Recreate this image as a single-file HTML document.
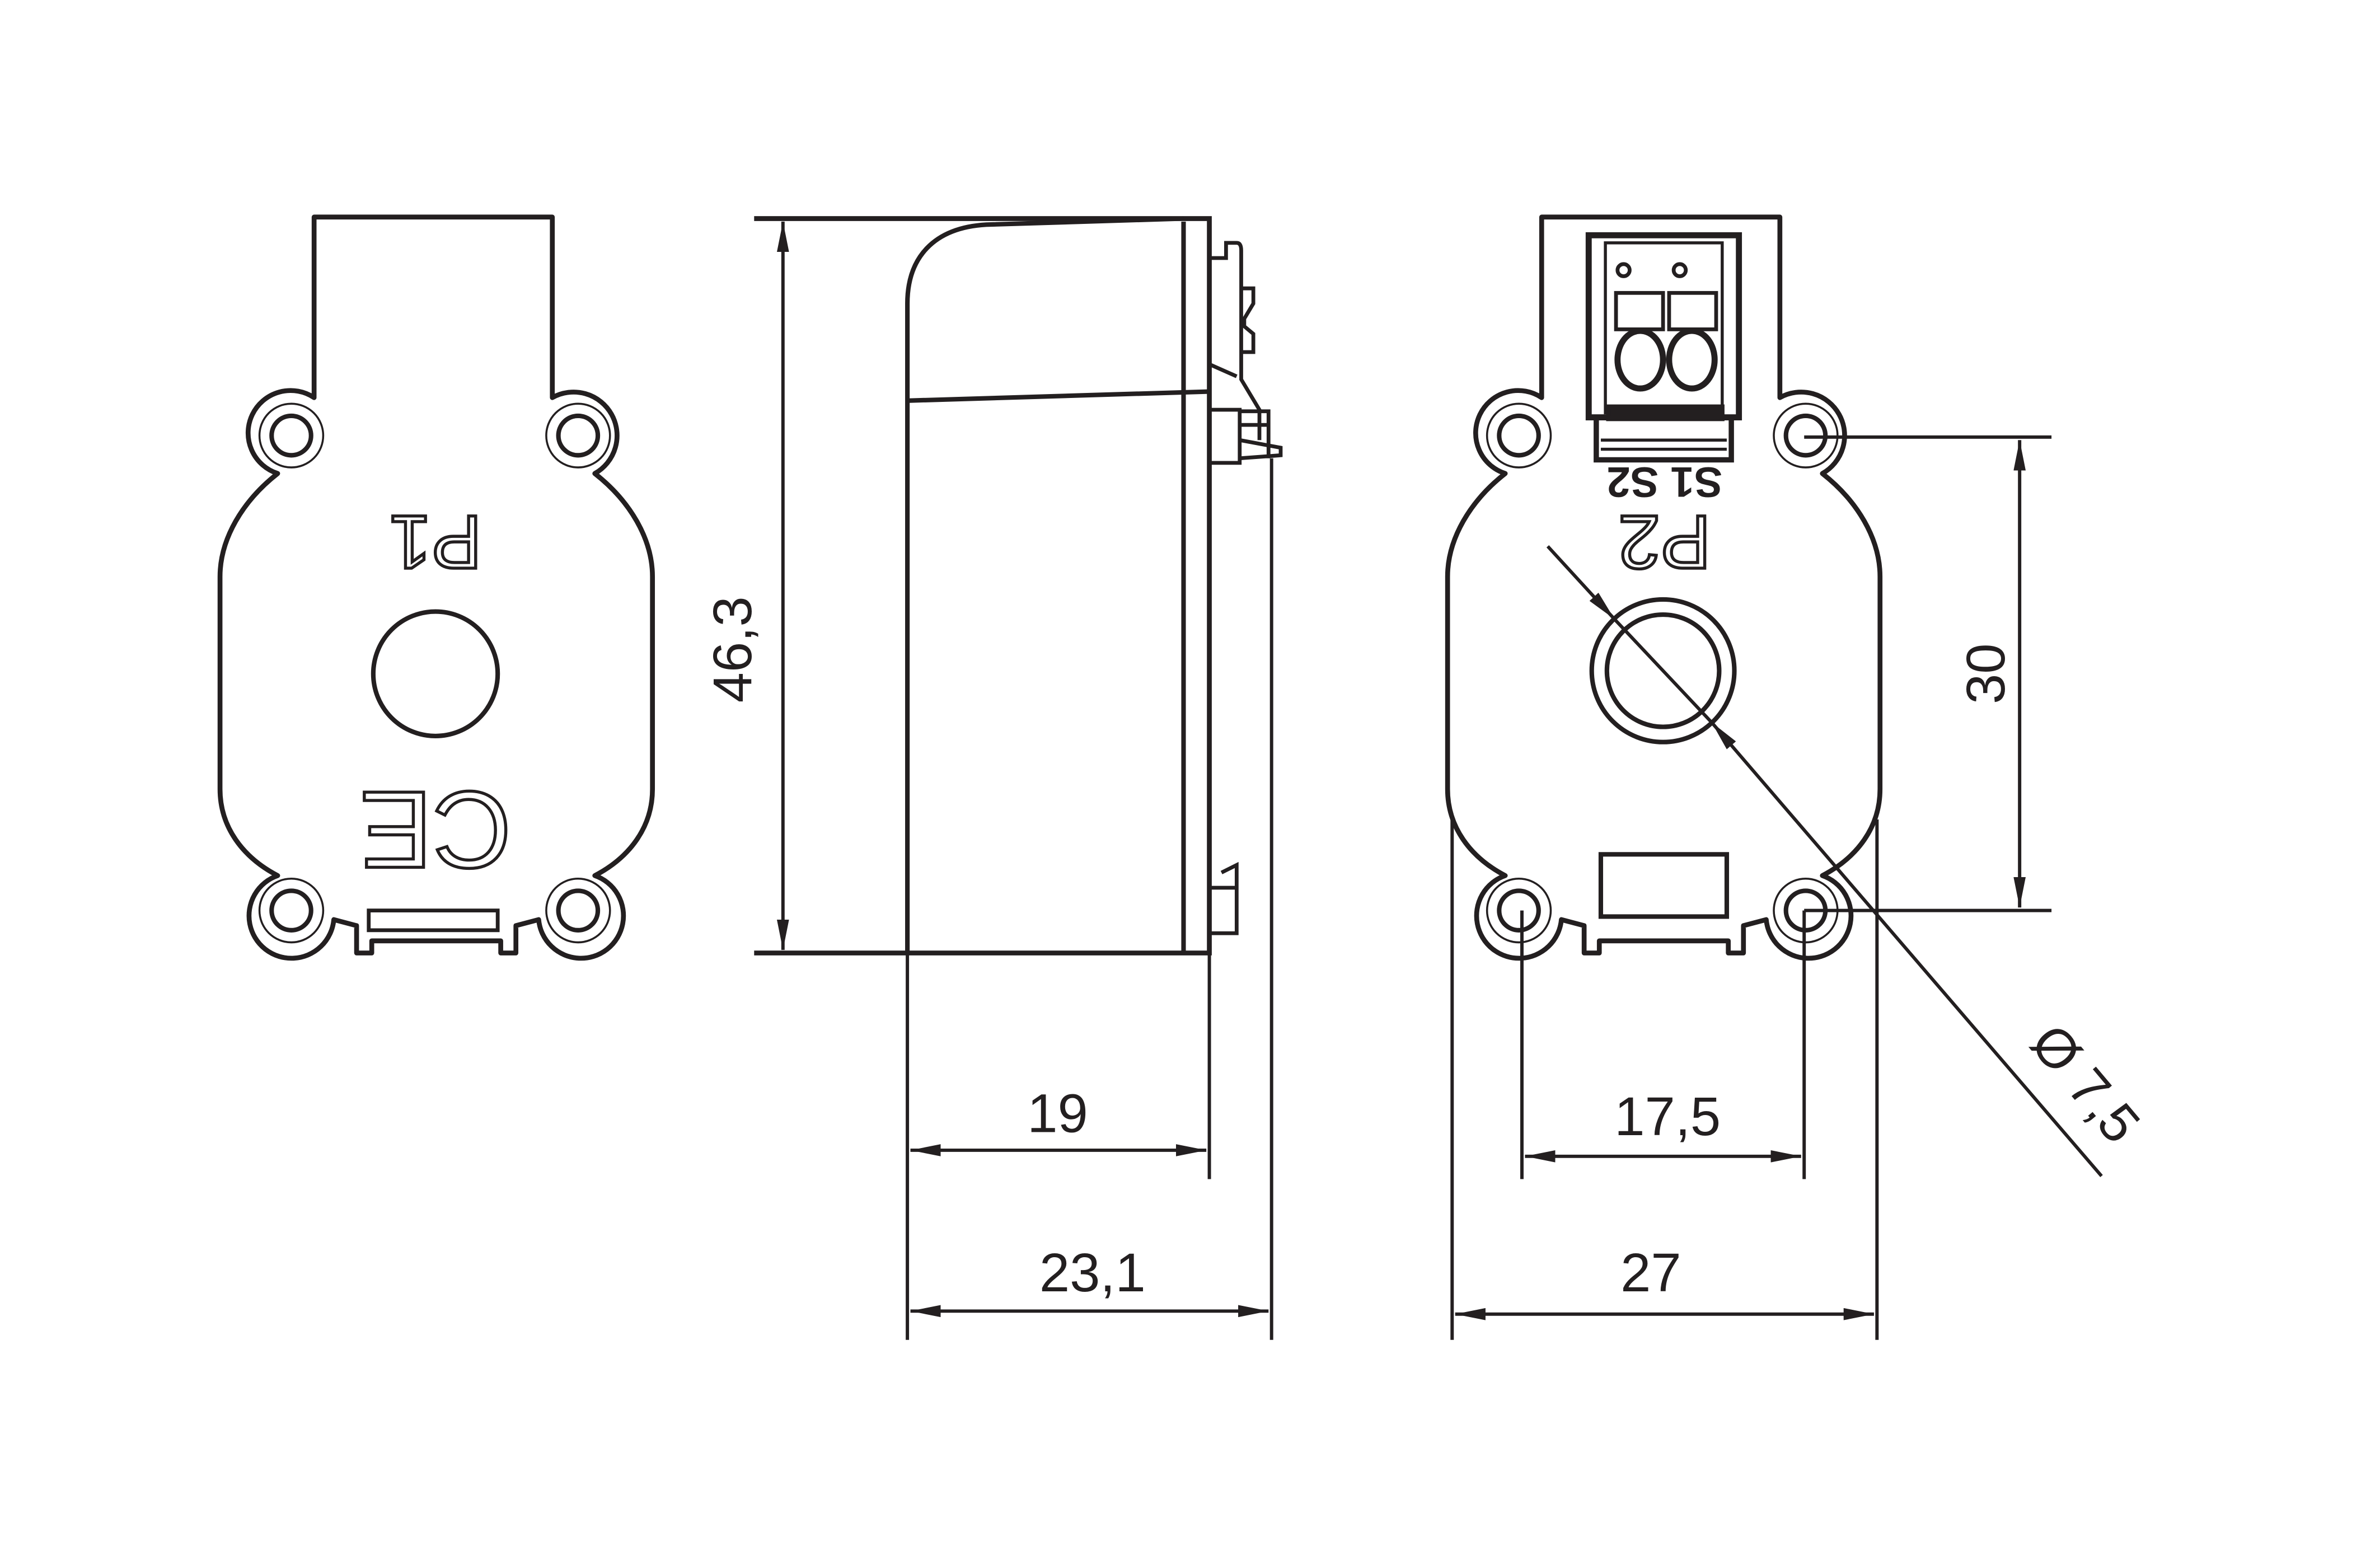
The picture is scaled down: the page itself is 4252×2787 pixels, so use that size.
<!DOCTYPE html>
<html><head><meta charset="utf-8"><style>html,body{margin:0;padding:0;background:#fff}svg{display:block}</style></head>
<body>
<svg width="4252" height="2787" viewBox="0 0 1568.5 1028" xmlns="http://www.w3.org/2000/svg">
<defs>
<marker id="ar" viewBox="0 0 20 8" refX="20" refY="4" markerWidth="20" markerHeight="8" markerUnits="userSpaceOnUse" orient="auto-start-reverse"><path d="M0,0 L20,4 L0,8 Z" fill="#231f20"/></marker>
<g id="body">
<path d="M207,143 H364 V262 A28,28 0 1,1 392,312 C415,330 430,355 430,380 V520 C430,545 415,565 392,577 A28,28 0 1,1 355,606 L340,610 V628 H330 V620 H245 V628 H235 V610 L220,606 A28,28 0 1,1 183,577 C160,565 145,545 145,520 V380 C145,355 160,330 183,312 A28,28 0 1,1 207,262 Z" fill="none" stroke="#231f20" stroke-width="3.2" stroke-linejoin="round"/>
<g fill="none" stroke="#231f20">
<circle cx="192" cy="287" r="21" stroke-width="1.3"/><circle cx="381" cy="287" r="21" stroke-width="1.3"/>
<circle cx="192" cy="600" r="21" stroke-width="1.3"/><circle cx="381" cy="600" r="21" stroke-width="1.3"/>
<circle cx="192" cy="287" r="13" stroke-width="3"/><circle cx="381" cy="287" r="13" stroke-width="3"/>
<circle cx="192" cy="600" r="13" stroke-width="3"/><circle cx="381" cy="600" r="13" stroke-width="3"/>
</g>
</g>
</defs>
<g fill="none" stroke="#231f20" stroke-width="3">
<use href="#body"/>
<rect x="243" y="600" width="85" height="13" stroke-width="2.5"/>
<circle cx="287" cy="444" r="41"/>
<use href="#body" transform="translate(809,0)"/>
<rect x="1055" y="563" width="83" height="41"/>
<circle cx="1096" cy="442" r="47"/>
<circle cx="1096" cy="442" r="37"/>
<rect x="1047" y="155" width="99" height="120" stroke-width="4"/>
<rect x="1058" y="160" width="77" height="112" stroke-width="2"/>
<rect x="1052" y="275" width="89" height="28" stroke-width="3.5"/>
<line x1="1055" y1="290" x2="1138" y2="290" stroke-width="2"/>
<line x1="1055" y1="296" x2="1138" y2="296" stroke-width="2"/>
<circle cx="1070" cy="178" r="4" stroke-width="2.5"/><circle cx="1107" cy="178" r="4" stroke-width="2.5"/>
<ellipse cx="1081" cy="237" rx="15" ry="19" stroke-width="4"/>
<ellipse cx="1115" cy="237" rx="15" ry="19" stroke-width="4"/>
<rect x="1065" y="193" width="31" height="24" stroke-width="2.5"/>
<rect x="1100" y="193" width="31" height="24" stroke-width="2.5"/>
<rect x="1060" y="268" width="75" height="8" fill="#231f20"/>
<path d="M497,144 H797 V628 H497" stroke-width="3.2"/>
<path d="M598,628 V200 C598,170 615,150 650,148 L780,144" stroke-width="3"/>
<line x1="780" y1="146" x2="780" y2="628"/>
<line x1="598" y1="264" x2="797" y2="258"/>
<path d="M797,170 H808 V160 H815 Q818,160 818,165 V250 L830,270 V290" stroke-width="2.5"/>
<path d="M818,190 H826 V200 L820,210 V215 L826,220 V232 H818" stroke-width="2.5"/>
<path d="M797,240 L815,248" stroke-width="2.5"/>
<rect x="797" y="270" width="20" height="35" stroke-width="2.5"/>
<path d="M817,271 H836 V302 M817,280 H836 M817,290 L844,295 V300 L817,302" stroke-width="2.5"/>
<path d="M797,585 H815 V615 H797 M805,575 L815,570 V585" stroke-width="2.5"/>
</g>
<g stroke="#231f20" stroke-width="2.2" fill="none">
<line x1="516" y1="146" x2="516" y2="626" marker-start="url(#ar)" marker-end="url(#ar)"/>
<line x1="598" y1="628" x2="598" y2="883"/>
<line x1="797" y1="628" x2="797" y2="777"/>
<line x1="838" y1="302" x2="838" y2="883"/>
<line x1="600" y1="758" x2="795" y2="758" marker-start="url(#ar)" marker-end="url(#ar)"/>
<line x1="600" y1="864" x2="836" y2="864" marker-start="url(#ar)" marker-end="url(#ar)"/>
<line x1="1189" y1="288" x2="1352" y2="288"/>
<line x1="1189" y1="600" x2="1352" y2="600"/>
<line x1="1331" y1="290" x2="1331" y2="598" marker-start="url(#ar)" marker-end="url(#ar)"/>
<line x1="1003" y1="600" x2="1003" y2="777"/>
<line x1="1189" y1="600" x2="1189" y2="777"/>
<line x1="1005" y1="762" x2="1187" y2="762" marker-start="url(#ar)" marker-end="url(#ar)"/>
<line x1="957" y1="540" x2="957" y2="883"/>
<line x1="1237" y1="540" x2="1237" y2="883"/>
<line x1="959" y1="866" x2="1235" y2="866" marker-start="url(#ar)" marker-end="url(#ar)"/>
<line x1="1020" y1="360" x2="1064" y2="408" marker-end="url(#ar)"/>
<line x1="1064" y1="408" x2="1128" y2="476"/>
<line x1="1385" y1="775" x2="1128" y2="476" marker-end="url(#ar)"/>
</g>
<g font-family="Liberation Sans, sans-serif" font-size="36" fill="#231f20" text-anchor="middle">
<text x="697" y="746">19</text>
<text x="720" y="851">23,1</text>
<text x="1099" y="748">17,5</text>
<text x="1088" y="851">27</text>
<text transform="translate(495,428) rotate(-90)">46,3</text>
<text transform="translate(1321,444) rotate(-90)">30</text>
<text transform="translate(1365,722) rotate(50)">Ø 7,5</text>
<text transform="translate(287,358) rotate(180)" font-size="50" fill="none" stroke="#231f20" stroke-width="2" dy="18">P1</text>
<text transform="translate(1097,358) rotate(180)" font-size="50" fill="none" stroke="#231f20" stroke-width="2" dy="18">P2</text>
<text transform="translate(1097,318) rotate(180)" font-size="28" font-weight="bold" dy="10">S1 S2</text>
<text transform="translate(287,548) rotate(180)" font-size="72" fill="none" stroke="#231f20" stroke-width="2" dy="26">CE</text>
</g>
</svg>
</body></html>
